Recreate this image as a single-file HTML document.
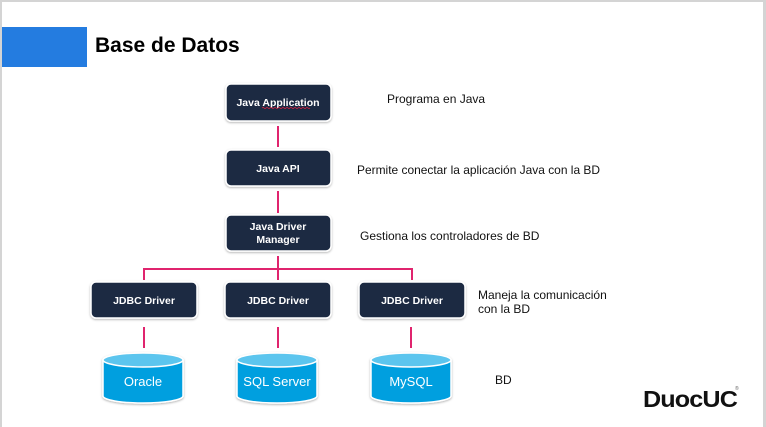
<!DOCTYPE html>
<html><head><meta charset="utf-8"><style>
html,body{margin:0;padding:0;background:#fff}
svg{display:block}
</style></head><body>
<svg width="766" height="427" viewBox="0 0 766 427" xmlns="http://www.w3.org/2000/svg" font-family="Liberation Sans, Arial, sans-serif">
<defs>
<filter id="sh" x="-10%" y="-10%" width="120%" height="130%"><feDropShadow dx="0" dy="1" stdDeviation="1" flood-color="#000" flood-opacity="0.3"/></filter>
</defs>
<rect x="0" y="0" width="766" height="427" fill="#fff"/>
<rect x="0" y="0" width="766" height="2" fill="#d4d4d4"/>
<rect x="0" y="0" width="2" height="427" fill="#d4d4d4"/>
<rect x="763" y="0" width="3" height="427" fill="#d4d4d4"/>
<rect x="2" y="27" width="85" height="40" fill="#247ce0"/>
<text x="95" y="52" font-size="21" font-weight="bold" fill="#000">Base de Datos</text>

<g stroke="#e0246e" stroke-width="2" fill="none">
<line x1="278" y1="126" x2="278" y2="147"/>
<line x1="278" y1="191" x2="278" y2="213"/>
<line x1="278" y1="256" x2="278" y2="280"/>
<polyline points="144,280 144,269 412,269 412,280"/>
<line x1="144" y1="327" x2="144" y2="348"/>
<line x1="278" y1="327" x2="278" y2="348"/>
<line x1="411" y1="327" x2="411" y2="348"/>
</g>

<g fill="#1a2942" stroke="#fff" stroke-width="1.5" filter="url(#sh)">
<rect x="226" y="84" width="105" height="37" rx="5"/>
<rect x="226" y="150" width="105" height="36" rx="5"/>
<rect x="226" y="215" width="105" height="36" rx="5"/>
<rect x="91" y="282" width="106" height="36" rx="5"/>
<rect x="225" y="282" width="106" height="36" rx="5"/>
<rect x="359" y="282" width="106" height="36" rx="5"/>
</g>
<g fill="#fff" font-size="10.5" font-weight="bold" text-anchor="middle">
<text x="278" y="106">Java Application</text>
<text x="278" y="172">Java API</text>
<text x="278" y="230">Java Driver</text>
<text x="278" y="243">Manager</text>
<text x="144" y="304">JDBC Driver</text>
<text x="278" y="304">JDBC Driver</text>
<text x="412" y="304">JDBC Driver</text>
</g>
<path d="M262 108 q1 -1 2 0 t2 0 t2 0 t2 0 t2 0 t2 0 t2 0 t2 0 t2 0 t2 0 t2 0 t2 0 t2 0 t2 0 t2 0 t2 0 t2 0 t2 0 t2 0 t2 0 t2 0 t2 0 t2 0 t2 0" stroke="#e02040" stroke-width="0.7" fill="none"/>

<g filter="url(#sh)">
<g>
<path d="M103 360 v36 a40 7 0 0 0 80 0 v-36 z" fill="#009fdf" stroke="#fff" stroke-width="1.5"/>
<ellipse cx="143" cy="360" rx="40" ry="7" fill="#5cc5ee" stroke="#fff" stroke-width="1.5"/>
</g>
<g>
<path d="M237 360 v36 a40 7 0 0 0 80 0 v-36 z" fill="#009fdf" stroke="#fff" stroke-width="1.5"/>
<ellipse cx="277" cy="360" rx="40" ry="7" fill="#5cc5ee" stroke="#fff" stroke-width="1.5"/>
</g>
<g>
<path d="M371 360 v36 a40 7 0 0 0 80 0 v-36 z" fill="#009fdf" stroke="#fff" stroke-width="1.5"/>
<ellipse cx="411" cy="360" rx="40" ry="7" fill="#5cc5ee" stroke="#fff" stroke-width="1.5"/>
</g>
</g>
<g fill="#fff" font-size="13" text-anchor="middle">
<text x="143" y="386">Oracle</text>
<text x="277" y="386">SQL Server</text>
<text x="411" y="386">MySQL</text>
</g>

<g fill="#111" font-size="12">
<text x="387" y="103">Programa en Java</text>
<text x="357" y="174" textLength="243" lengthAdjust="spacingAndGlyphs">Permite conectar la aplicación Java con la BD</text>
<text x="360" y="240">Gestiona los controladores de BD</text>
<text x="478" y="299">Maneja la comunicación</text>
<text x="478" y="313">con la BD</text>
<text x="495" y="384">BD</text>
</g>
<text x="643" y="407" font-size="23" font-weight="bold" fill="#111" letter-spacing="-0.8" textLength="94" lengthAdjust="spacingAndGlyphs">DuocUC</text>
<text x="735" y="390" font-size="5" fill="#666">®</text>
</svg>
</body></html>
